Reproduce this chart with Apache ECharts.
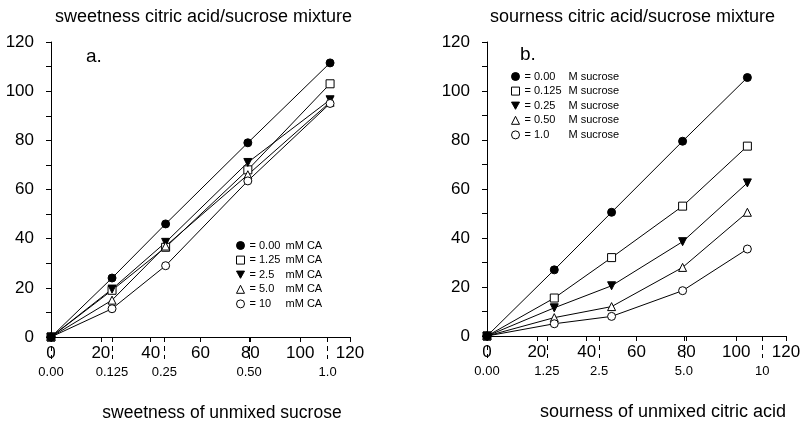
<!DOCTYPE html>
<html>
<head>
<meta charset="utf-8">
<title>citric acid / sucrose mixtures</title>
<script src="https://cdn.jsdelivr.net/npm/echarts@6/dist/echarts.min.js"></script>
<style>
  html, body { margin: 0; padding: 0; background: #fff; }
  #chart { width: 804px; height: 423px; }
</style>
</head>
<body>
<div id="chart"></div>
<script>
// x positions of the points (intensity of the unmixed substance)
const sweetX = [0, 24.5, 46, 79, 112]
const sourX = [0, 27, 50, 78.5, 104.5]

// a. sweetness of the mixture, one array per citric acid level
const sweetCA000 = [0, 24, 46, 79, 111.5]
const sweetCA125 = [0, 19, 36.5, 68, 103]
const sweetCA25 = [0, 19.5, 38.5, 71, 96.5]
const sweetCA50 = [0, 15, 37, 66, 95.5]
const sweetCA10 = [0, 11.5, 29, 63.5, 95]

// b. sourness of the mixture, one array per sucrose level
const sourS000 = [0, 27, 50.5, 79.5, 105.5]
const sourS0125 = [0, 15.5, 32, 53, 77.5]
const sourS025 = [0, 11.5, 20.5, 38.5, 62.5]
const sourS050 = [0, 7.5, 12, 28, 50.5]
const sourS10 = [0, 5, 8, 18.5, 35.5]

// legend entries
const sweetNames = ['0.00 mM CA', '1.25 mM CA', '2.5 mM CA', '5.0 mM CA', '10 mM CA']
const sourNames = ['0.00 M sucrose', '0.125 M sucrose', '0.25 M sucrose', '0.50 M sucrose', '1.0 M sucrose']

// concentration scale under each x axis
const sweetConcPos = [0, 24.5, 45.5, 79.5, 111]
const sweetConcLabels = ['0.00', '0.125', '0.25', '0.50', '1.0']
const sourConcPos = [0, 24, 45, 79, 110.5]
const sourConcLabels = ['0.00', '1.25', '2.5', '5.0', '10']

const FONT = '"Liberation Sans", Arial, sans-serif'
const DOWN = 'path://M0,0L10,0L5,9Z'

// marker styles in legend order
const markers = [
  { symbol: 'circle', fill: '#000', size: 8 },
  { symbol: 'rect', fill: '#fff', size: 8 },
  { symbol: DOWN, fill: '#000', size: 8 },
  { symbol: 'triangle', fill: '#fff', size: 8 },
  { symbol: 'circle', fill: '#fff', size: 8 }
]

const zip = (xs, ys) => xs.map((x, i) => [x, ys[i]])

const makeSeries = (name, xs, ys, idx, axis) => ({
  name: name,
  type: 'line',
  xAxisIndex: axis === 0 ? 0 : 2,
  yAxisIndex: axis,
  data: zip(xs, ys),
  symbol: markers[idx].symbol,
  symbolSize: markers[idx].size,
  z: idx === 0 ? 4 : 3,
  lineStyle: { color: '#000', width: 1 },
  itemStyle: { color: markers[idx].fill, borderColor: '#000', borderWidth: 1 },
  emphasis: { disabled: true },
  animation: false
})

const primaryX = (grid) => ({
  type: 'value',
  gridIndex: grid,
  min: 0,
  max: 120,
  interval: 20,
  axisLine: { show: true, lineStyle: { color: '#000', width: 1 } },
  axisTick: { show: true, length: 5, lineStyle: { color: '#000' } },
  axisLabel: { fontSize: 17, color: '#000', fontFamily: FONT, margin: 8 },
  splitLine: { show: false }
})

const concX = (grid, pos, labels) => ({
  type: 'value',
  gridIndex: grid,
  position: 'bottom',
  min: 0,
  max: 120,
  axisLine: { show: false },
  axisTick: {
    show: true,
    length: 22,
    customValues: pos,
    lineStyle: { color: '#000', type: [5, 4] }
  },
  axisLabel: {
    customValues: pos,
    fontSize: 13,
    color: '#000',
    fontFamily: FONT,
    margin: 29,
    formatter: (v) => {
      const i = pos.indexOf(v)
      return i >= 0 ? labels[i] : ''
    }
  },
  splitLine: { show: false }
})

const yAxisFor = (grid) => ({
  type: 'value',
  gridIndex: grid,
  min: 0,
  max: 120,
  interval: 20,
  axisLine: { show: true, lineStyle: { color: '#000', width: 1 } },
  axisTick: { show: true, length: 5, lineStyle: { color: '#000' } },
  minorTick: { show: true, splitNumber: 2, length: 5, lineStyle: { color: '#000' } },
  axisLabel: { fontSize: 17, color: '#000', fontFamily: FONT, margin: 17 },
  splitLine: { show: false }
})

const legendFor = (names, left, top, colWidth) => ({
  orient: 'vertical',
  left: left,
  top: top,
  padding: 0,
  itemWidth: 8,
  itemHeight: 8,
  itemGap: 3.6,
  selectedMode: false,
  symbolRotate: 0,
  data: names.map((n, i) => ({
    name: n,
    icon: markers[i].symbol,
    itemStyle: { color: markers[i].fill, borderColor: '#000', borderWidth: 1 }
  })),
  formatter: (n) => {
    const k = n.indexOf(' ')
    return '{a|= ' + n.slice(0, k) + '}{b|' + n.slice(k + 1) + '}'
  },
  textStyle: {
    color: '#000',
    fontFamily: FONT,
    fontSize: 11,
    rich: {
      a: { width: colWidth, fontSize: 11, fontFamily: FONT, lineHeight: 14, color: '#000' },
      b: { fontSize: 11, fontFamily: FONT, lineHeight: 14, color: '#000' }
    }
  }
})

const label = (text, x, y, size, align) => ({
  type: 'text',
  x: x,
  y: y,
  style: {
    text: text,
    font: size + 'px ' + FONT,
    fill: '#000',
    align: align || 'center',
    verticalAlign: 'middle'
  }
})

const chart = echarts.init(document.getElementById('chart'))

const sweetSets = [sweetCA000, sweetCA125, sweetCA25, sweetCA50, sweetCA10]
const sourSets = [sourS000, sourS0125, sourS025, sourS050, sourS10]

chart.setOption({
  animation: false,
  backgroundColor: '#fff',
  grid: [
    { left: 51, top: 42, width: 299, height: 295 },
    { left: 487, top: 42, width: 299, height: 294 }
  ],
  xAxis: [
    primaryX(0),
    concX(0, sweetConcPos, sweetConcLabels),
    primaryX(1),
    concX(1, sourConcPos, sourConcLabels)
  ],
  yAxis: [yAxisFor(0), yAxisFor(1)],
  legend: [
    legendFor(sweetNames, 236, 240, 36),
    legendFor(sourNames, 511, 71, 44)
  ],
  graphic: [
    label('sweetness citric acid/sucrose mixture', 203.5, 17, 18),
    label('sourness citric acid/sucrose mixture', 632.5, 17, 18),
    label('a.', 86, 57, 19, 'left'),
    label('b.', 520, 55, 19, 'left'),
    label('sweetness of unmixed sucrose', 222, 413, 17.5),
    label('sourness of unmixed citric acid', 663, 412, 18)
  ],
  series: [
    ...sweetNames.map((n, i) => makeSeries(n, sweetX, sweetSets[i], i, 0)),
    ...sourNames.map((n, i) => makeSeries(n, sourX, sourSets[i], i, 1))
  ]
})
</script>
</body>
</html>
